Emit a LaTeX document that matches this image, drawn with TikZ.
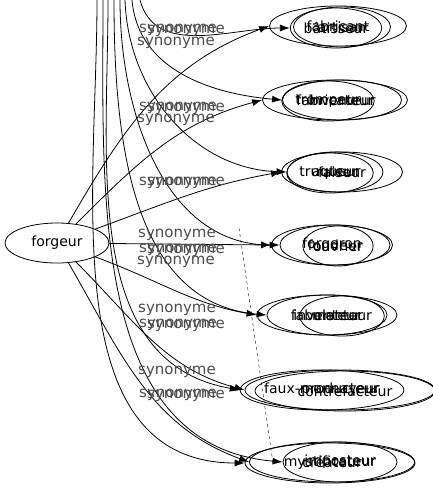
\documentclass[tikz,border=0pt]{standalone}
\usepackage{fontspec}
\setmainfont{DejaVu Sans}
\usetikzlibrary{arrows.meta,shapes.geometric}

\begin{document}
\begin{tikzpicture}[x=1pt, y=-1pt,
  >={Latex[length=10pt,width=7pt]},
  sy/.style={draw, ellipse, inner sep=0pt, minimum height=40pt, line width=0.8pt,
             font=\fontsize{14}{16}\selectfont},
  lb/.style={font=\fontsize{15}{17}\selectfont, text=black!70, inner sep=0pt},
  e/.style={->, line width=0.8pt}]
\useasboundingbox (0,0) rectangle (432,491);
% source
\node[sy, minimum width=104pt] (fg) at (57,243) {forgeur};
% row 1
\node[sy, minimum width=137pt] (a1) at (338,26) {fabricant};
\node[sy, minimum width=97pt] (a2) at (342,27) {artisan};
\node[sy, minimum width=72pt] (a3) at (336,28) {bâtisseur};
% row 2
\node[sy, minimum width=145pt] (b1) at (335,100) {fabricateur};
\node[sy, minimum width=119pt] (b2) at (342,100) {inventeur};
\node[sy, minimum width=65pt] (b3) at (328,101) {trompeur};
% row 3
\node[sy, minimum width=121pt] (c1) at (342,172) {faiseur};
\node[sy, minimum width=96pt] (c2) at (335,172) {auteur};
\node[sy, minimum width=60pt] (c3) at (330,173) {truqueur};
% row 4
\node[sy, minimum width=121pt] (d1) at (332,245) {forgeron};
\node[sy, minimum width=110pt] (d2) at (335,245) {fondeur};
\node[sy, minimum width=57pt] (d3) at (338,246) {ouvrier};
% row 5
\node[sy, minimum width=140pt] (m1) at (327,315) {inventeur};
\node[sy, minimum width=120pt] (m2) at (327,315) {fabulateur};
\node[sy, minimum width=81pt] (m3) at (342,316) {menteur};
% row 6
\node[sy, minimum width=190pt] (p1) at (340,390) {producteur};
\node[sy, minimum width=127pt] (p2) at (322,390) {faux-monnayeur};
\node[sy, minimum width=180pt] (p3) at (345,391) {contrefacteur};
% row 7
\node[sy, minimum width=165pt] (q1) at (332,462) {créateur};
\node[sy, minimum width=114pt] (q2) at (340,462) {imposteur};
\node[sy, minimum width=170pt] (q3) at (330,463) {mystificateur};
% bundle from above
\foreach \n/\x in {1/97,2/103,3/108,4/114,5/120,6/125,7/132,8/140}
  \coordinate (t\n) at (\x,0);
\draw[e] (t8) to[out=-75,in=180] (a3.west);
\draw[e] (t7) to[out=-85,in=175] (b2.west);
\draw[e] (t6) to[out=-88,in=178] (c2.west);
\draw[e] (t5) to[out=-90,in=180] (d2.west);
\draw[e] (t4) to[out=-90,in=175] (m2.west);
\draw[e] (t3) to[out=-90,in=170] (p2.west);
\draw[e] (t2) to[out=-90,in=175] (q2.west);
\draw[e] (t1) to[out=-90,in=180] (q3.west);
% from forgeur
\draw[e] (fg) to[out=60,in=200] (a1.west);
\draw[e] (fg) to[out=45,in=195] (b1.west);
\draw[e] (fg) to[out=20,in=190] (c1.west);
\draw[e] (fg) -- (d1.west);
\draw[e] (fg) to[out=-20,in=170] (m1.west);
\draw[e] (fg) to[out=-45,in=165] (p1.west);
\draw[e] (fg) to[out=-60,in=160] (q1.west);
\coordinate (dk) at (239,228);
\draw[dashed, thin] (dk) -- (273,463);
% labels
\node[lb] (l1) at (178,30) {synonyme};
\node[lb] (l2) at (186,31) {synonyme};
\node[lb] (l3) at (176,43) {synonyme};
\node[lb] (l4) at (178,108) {synonyme};
\node[lb] (l5) at (186,109) {synonyme};
\node[lb] (l6) at (176,120) {synonyme};
\node[lb] (l7) at (178,183) {synonyme};
\node[lb] (l8) at (186,183) {synonyme};
\node[lb] (l9) at (177,235) {synonyme};
\node[lb] (l10) at (178,250) {synonyme};
\node[lb] (l11) at (186,251) {synonyme};
\node[lb] (l12) at (176,262) {synonyme};
\node[lb] (l13) at (177,310) {synonyme};
\node[lb] (l14) at (178,325) {synonyme};
\node[lb] (l15) at (186,326) {synonyme};
\node[lb] (l16) at (177,372) {synonyme};
\node[lb] (l17) at (178,395) {synonyme};
\node[lb] (l18) at (186,396) {synonyme};
\end{tikzpicture}
\end{document}
